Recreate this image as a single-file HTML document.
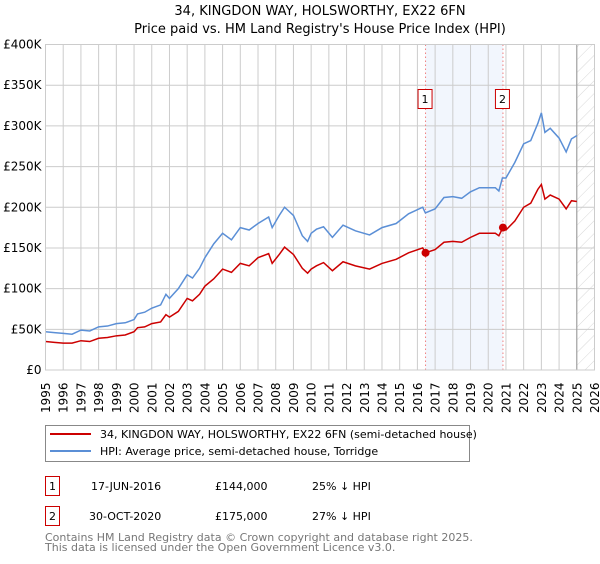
<!DOCTYPE html>
<html><head><meta charset="utf-8"><style>
body{margin:0;background:#fff;width:600px;height:560px;overflow:hidden;font-family:"DejaVu Sans","Liberation Sans",sans-serif;}
svg text{font-family:"DejaVu Sans","Liberation Sans",sans-serif;}
</style></head><body>
<svg id="chart" width="600" height="560" xmlns="http://www.w3.org/2000/svg">
<defs><pattern id="hatch" width="9" height="9" patternUnits="userSpaceOnUse" patternTransform="rotate(45)"><line x1="0" y1="0" x2="0" y2="9" stroke="#d8d8d8" stroke-width="1"/></pattern></defs>
<text x="320" y="15" text-anchor="middle" font-size="13">34, KINGDON WAY, HOLSWORTHY, EX22 6FN</text>
<text x="320" y="33" text-anchor="middle" font-size="13">Price paid vs. HM Land Registry's House Price Index (HPI)</text>
<g id="plot"></g>
<g>
<rect x="45.5" y="425.5" width="424" height="36" fill="#fff" stroke="#888"/>
<line x1="50" y1="434" x2="91" y2="434" stroke="#cc0000" stroke-width="2"/>
<text x="100" y="438" font-size="11">34, KINGDON WAY, HOLSWORTHY, EX22 6FN (semi-detached house)</text>
<line x1="50" y1="451" x2="91" y2="451" stroke="#5b8fd6" stroke-width="2"/>
<text x="100" y="455" font-size="11">HPI: Average price, semi-detached house, Torridge</text>
</g>
<g font-size="11">
<rect x="45.5" y="476.5" width="14" height="19" fill="#fff" stroke="#cc0000"/>
<text x="52.5" y="490" text-anchor="middle">1</text>
<text x="91" y="490">17-JUN-2016</text><text x="215" y="490">£144,000</text><text x="312" y="490">25% ↓ HPI</text>
<rect x="45.5" y="506.5" width="14" height="19" fill="#fff" stroke="#cc0000"/>
<text x="52.5" y="520" text-anchor="middle">2</text>
<text x="89" y="520">30-OCT-2020</text><text x="215" y="520">£175,000</text><text x="312" y="520">27% ↓ HPI</text>
</g>
<text x="45" y="541" font-size="11" fill="#777">Contains HM Land Registry data © Crown copyright and database right 2025.</text>
<text x="45" y="551" font-size="11" fill="#777">This data is licensed under the Open Government Licence v3.0.</text>
</svg>
<script>
const hpiYears=[1995,1995.5,1996,1996.5,1997,1997.5,1998,1998.5,1999,1999.5,2000,2000.2,2000.6,2001,2001.5,2001.8,2002,2002.5,2003,2003.3,2003.7,2004,2004.5,2005,2005.5,2006,2006.5,2007,2007.6,2007.8,2008.2,2008.5,2009,2009.5,2009.8,2010,2010.3,2010.7,2011.2,2011.8,2012.5,2013.3,2014,2014.8,2015.5,2016.3,2016.45,2017,2017.5,2018,2018.5,2019,2019.5,2020.4,2020.6,2020.8,2021,2021.5,2022,2022.4,2022.8,2023.0,2023.2,2023.5,2024,2024.4,2024.7,2025];
const hpiValues=[47,46,45,44,49,48,53,54,57,58,62,69,71,76,80,93,88,100,117,113,125,138,155,168,160,175,172,180,188,175,190,200,190,165,158,168,173,176,163,178,171,166,175,180,192,200,193,198,212,213,211,219,224,224,220,236,236,255,278,282,303,316,292,297,285,268,284,288];
const ppYears=[1995,1995.5,1996,1996.5,1997,1997.5,1998,1998.5,1999,1999.5,2000,2000.2,2000.6,2001,2001.5,2001.8,2002,2002.5,2003,2003.3,2003.7,2004,2004.5,2005,2005.5,2006,2006.5,2007,2007.6,2007.8,2008.2,2008.5,2009,2009.5,2009.8,2010,2010.3,2010.7,2011.2,2011.8,2012.5,2013.3,2014,2014.8,2015.5,2016.3,2016.45,2017,2017.5,2018,2018.5,2019,2019.5,2020.4,2020.6,2020.83,2021,2021.5,2022,2022.4,2022.8,2023.0,2023.2,2023.5,2024,2024.4,2024.7,2025];
const ppValues=[35,34,33,33,36,35,39,40,42,43,47,52,53,57,59,68,65,72,88,85,93,103,112,124,120,131,128,138,143,131,142,151,142,125,119,124,128,132,122,133,128,124,131,136,144,150,144,148,157,158,157,163,168,168,165,175,172,183,200,205,222,228,210,215,210,198,208,207];
const saleYears=[2016.46,2020.83];
const saleValues=[144,175];
const saleLabels=["1","2"];
const yTicks=[0,50,100,150,200,250,300,350,400];
const yTickLabels=["£0","£50K","£100K","£150K","£200K","£250K","£300K","£350K","£400K"];
const xTicks=[1995,1996,1997,1998,1999,2000,2001,2002,2003,2004,2005,2006,2007,2008,2009,2010,2011,2012,2013,2014,2015,2016,2017,2018,2019,2020,2021,2022,2023,2024,2025,2026];
const X0=45.5,X1=594.5,Y0=370,Y1=44.5;
const x=v=>X0+(v-1995)/(2026-1995)*(X1-X0);
const y=v=>Y0-(v/400)*(Y0-Y1);
const NS="http://www.w3.org/2000/svg";
const g=document.getElementById('plot');
function mk(tag,attrs,parent){const e=document.createElementNS(NS,tag);for(const k in attrs)e.setAttribute(k,attrs[k]);(parent||g).appendChild(e);return e;}
let e;
e=mk('rect',{x:x(saleYears[0]),y:Y1,width:x(saleYears[1])-x(saleYears[0]),height:Y0-Y1,fill:'#f2f6fd'});


e=mk('rect',{x:x(2025),y:Y1,width:X1-x(2025),height:Y0-Y1,fill:'url(#hatch)'});


yTicks.forEach((t,i)=>{
 e=mk('line',{x1:X0,x2:X1,y1:y(t),y2:y(t),stroke:'#ccc','stroke-width':1});
 
 
 e=mk('text',{x:X0-4,y:y(t)+4,'text-anchor':'end','font-size':12});
 e.textContent=yTickLabels[i];
 
 
});
xTicks.forEach(t=>{
 e=mk('line',{x1:x(t),x2:x(t),y1:Y1,y2:Y0,stroke:'#ccc','stroke-width':1});
 
 
 e=mk('text',{transform:`translate(${x(t)+4.5},413) rotate(-90)`,'font-size':12});
 e.textContent=t;
 
 
});
e=mk('line',{x1:x(2025),x2:x(2025),y1:Y1,y2:Y0,stroke:'#999','stroke-width':1});


saleYears.forEach((s,i)=>{
 e=mk('line',{x1:x(s),x2:x(s),y1:Y1,y2:Y0,stroke:'#f08080','stroke-width':1,'stroke-dasharray':'1.5,2.5'});
 
 
});
e=mk('polyline',{points:hpiYears.map((v,i)=>x(v)+','+y(hpiValues[i])).join(' '),fill:'none',stroke:'#5b8fd6','stroke-width':1.5});


e=mk('polyline',{points:ppYears.map((v,i)=>x(v)+','+y(ppValues[i])).join(' '),fill:'none',stroke:'#cc0000','stroke-width':1.5});


saleYears.forEach((s,i)=>{
 e=mk('circle',{cx:x(s),cy:y(saleValues[i]),r:4,fill:'#cc0000'});
 
 
 e=mk('rect',{x:x(s)-7.5,y:89.5,width:14,height:19,fill:'#fff',stroke:'#cc0000'});
 
 
 e=mk('text',{x:x(s)-0.5,y:103,'text-anchor':'middle','font-size':11});
 e.textContent=saleLabels[i];
 
 
});
e=mk('rect',{x:X0,y:Y1,width:X1-X0,height:Y0-Y1,fill:'none',stroke:'#ccc'});


</script>
</body></html>
